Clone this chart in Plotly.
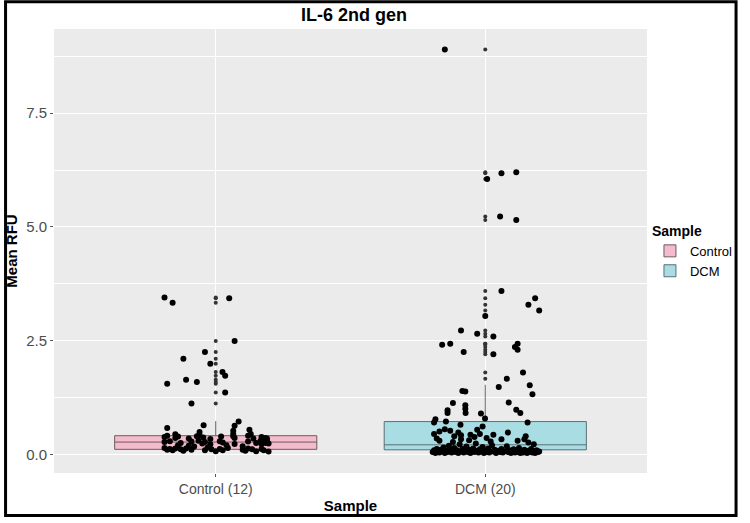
import plotly.graph_objects as go

# ---------------- data ----------------
categories = ["Control (12)", "DCM (20)"]
legend_names = ["Control", "DCM"]

# box statistics
box_q1 = [0.11, 0.10]
box_median = [0.27, 0.21]
box_q3 = [0.41, 0.72]
box_lower = [0.06, 0.03]
box_upper = [0.73, 1.53]

# jittered points: horizontal jitter offset (category units) and value
control_offset = [
    -0.19, -0.16, 0.05, 0.07, -0.04, -0.12, -0.02, 0.025, 0.035, -0.11, -0.07, -0.18, 0.035, -0.09,
    -0.18, -0.045, 0.085, 0.07, -0.06, 0.065, 0.125, 0.13, -0.06, 0.065, 0.065, -0.15,
    -0.19, -0.18, -0.15, -0.14, -0.10, -0.07, -0.046, -0.02, 0.02, 0.07, 0.12, 0.14, 0.17, 0.178, 0.184,
    -0.19, -0.17, -0.13, -0.09, -0.064, -0.05, -0.04, -0.02, 0.015, 0.026, 0.07, 0.12, 0.15, 0.166, 0.184, 0.19, 0.196,
    -0.19, -0.18, -0.17, -0.16, -0.15, -0.13, -0.12, -0.11, -0.09, -0.04, -0.03, -0.016, 0.0, 0.015, 0.026,
    0.045, 0.10, 0.11, 0.12, 0.135, 0.15, 0.17, 0.178, 0.196,
    0.175, 0.18, 0.185, 0.17, 0.19,
    -0.10, -0.14, 0.04, 0.10, -0.08,
]
control_value = [
    3.45, 3.33, 3.43, 2.49, 2.25, 2.10, 1.99, 1.81, 1.73, 1.64, 1.59, 1.55, 1.36, 1.12,
    0.58, 0.64, 0.72, 0.63, 0.49, 0.52, 0.54, 0.45, 0.42, 0.45, 0.40, 0.44,
    0.38, 0.41, 0.36, 0.39, 0.35, 0.40, 0.37, 0.34, 0.39, 0.36, 0.41, 0.35, 0.38, 0.33, 0.36,
    0.27, 0.29, 0.25, 0.28, 0.30, 0.24, 0.27, 0.22, 0.29, 0.26, 0.23, 0.28, 0.25, 0.30, 0.27, 0.31, 0.24,
    0.14, 0.10, 0.12, 0.09, 0.13, 0.11, 0.08, 0.13, 0.10, 0.09, 0.15, 0.11, 0.07, 0.12, 0.09,
    0.14, 0.10, 0.08, 0.13, 0.11, 0.07, 0.12, 0.09, 0.06,
    0.33, 0.30, 0.25, 0.22, 0.35,
    0.19, 0.20, 0.20, 0.18, 0.17,
]

dcm_offset = [
    -0.15, 0.06, 0.115, 0.007, 0.055, 0.115, 0.06, 0.185, 0.16, 0.2, 0.0, -0.09, -0.03, 0.03,
    -0.16, -0.13, -0.08, 0.03, 0.12, 0.11, 0.12, 0.14, 0.08,
    0.05, 0.165, 0.175, -0.085, -0.074, -0.12, 0.087, -0.074, -0.074, -0.14, -0.14, -0.073, 0.115,
    0.13, -0.016, -0.001, -0.185, -0.19, -0.146, 0.157, -0.092, -0.01,
    -0.15, -0.17, -0.13, -0.10, -0.09, -0.03, -0.02, -0.055, 0.03, 0.084, 0.15, 0.145, -0.19, -0.18,
    -0.115, -0.04, 0.005,
    -0.195, -0.19, -0.185, -0.18, -0.175, -0.17, -0.165, -0.16, -0.155, -0.15, -0.145, -0.14, -0.135,
    -0.13, -0.125, -0.12, -0.115, -0.11, -0.105, -0.10, -0.095, -0.09, -0.085, -0.08, -0.075, -0.07,
    -0.065, -0.06, -0.055, -0.05, -0.045, -0.04, -0.035, -0.03, -0.025, -0.02, -0.015, -0.01, -0.005,
    0.0, 0.005, 0.01, 0.015, 0.02, 0.025, 0.03, 0.035, 0.04, 0.05, 0.055, 0.06, 0.065, 0.07, 0.08,
    0.085, 0.09, 0.095, 0.10, 0.105, 0.11, 0.115, 0.12, 0.125, 0.13, 0.135, 0.14, 0.145, 0.15, 0.155,
    0.16, 0.165, 0.17, 0.175, 0.18, 0.185, 0.19, 0.195, 0.2,
    -0.17, -0.12, -0.06, 0.02, 0.06, 0.12, 0.16, 0.18, -0.09,
]
dcm_value = [
    8.90, 6.18, 6.20, 6.05, 5.23, 5.15, 3.59, 3.43, 3.29, 3.16, 3.04, 2.72, 2.65, 2.59,
    2.41, 2.43, 2.25, 2.20, 2.43, 2.36, 2.30, 1.80, 1.66,
    1.48, 1.52, 1.32, 1.39, 1.38, 1.13, 1.14, 1.08, 1.00, 0.97, 0.91, 0.91, 0.98,
    0.91, 0.90, 0.79, 0.77, 0.70, 0.72, 0.70, 0.65, 0.61,
    0.55, 0.50, 0.52, 0.48, 0.42, 0.54, 0.45, 0.43, 0.43, 0.48, 0.40, 0.33, 0.45, 0.35,
    0.40, 0.38, 0.36,
    0.05, 0.09, 0.03, 0.12, 0.06, 0.04, 0.10, 0.07, 0.15, 0.03, 0.08, 0.05, 0.19,
    0.11, 0.04, 0.07, 0.14, 0.05, 0.09, 0.03, 0.22, 0.06, 0.12, 0.04, 0.08, 0.17,
    0.05, 0.10, 0.03, 0.07, 0.13, 0.05, 0.24, 0.08, 0.04, 0.11, 0.06, 0.16, 0.03,
    0.09, 0.05, 0.13, 0.04, 0.07, 0.20, 0.06, 0.10, 0.03, 0.08, 0.05, 0.12, 0.04, 0.07, 0.18,
    0.05, 0.09, 0.03, 0.06, 0.11, 0.04, 0.08, 0.05, 0.14, 0.03, 0.07, 0.04, 0.10, 0.06, 0.03,
    0.08, 0.05, 0.12, 0.04, 0.07, 0.03, 0.09, 0.05, 0.06,
    0.30, 0.27, 0.31, 0.28, 0.33, 0.30, 0.26, 0.22, 0.33,
]

y_ticks = [0.0, 2.5, 5.0, 7.5]

# ---------------- styles ----------------
fills = ["#F3BBCB", "#A9DDE4"]
lines = ["#6E5A63", "#5B6E74"]
FONT = "Liberation Sans, Arial, sans-serif"

fig = go.Figure()

offsets_all = [control_offset, dcm_offset]
values_all = [control_value, dcm_value]

for i in range(2):
    fig.add_trace(go.Box(
        x=[i], q1=[box_q1[i]], median=[box_median[i]], q3=[box_q3[i]],
        lowerfence=[box_lower[i]], upperfence=[box_upper[i]],
        width=0.75, whiskerwidth=0, boxpoints=False,
        fillcolor=fills[i], line=dict(color=lines[i], width=1),
        name=legend_names[i], showlegend=True,
    ))

# outliers (drawn by the boxplot at the category centre)
for i in range(2):
    fence = box_q3[i] + 1.5 * (box_q3[i] - box_q1[i])
    out = [v for v in values_all[i] if v > fence]
    fig.add_trace(go.Scatter(
        x=[i] * len(out), y=out, mode="markers",
        marker=dict(color="#333333", size=4), showlegend=False, hoverinfo="skip",
    ))

# jittered points
for i in range(2):
    fig.add_trace(go.Scatter(
        x=[i + o for o in offsets_all[i]], y=values_all[i], mode="markers",
        marker=dict(color="black", size=6), showlegend=False,
    ))

W, H = 750, 523
ml, mr, mt, mb = 51, 93, 29, 45
pw, ph = W - ml - mr, H - mt - mb

fig.update_layout(
    width=W, height=H,
    margin=dict(l=ml, r=mr, t=mt, b=mb, pad=0),
    paper_bgcolor="white", plot_bgcolor="#EBEBEB",
    font=dict(family=FONT, color="black"),
    title=dict(text="<b>IL-6 2nd gen</b>", x=(ml + pw / 2) / W, xanchor="center",
               y=1 - 15 / H, yanchor="middle", font=dict(size=18, color="black")),
    legend=dict(
        title=dict(text="<b>Sample</b>", font=dict(size=14)),
        x=1.005, xanchor="left", y=0.575, yanchor="top",
        font=dict(size=13, color="black"), bgcolor="rgba(0,0,0,0)",
        tracegroupgap=0, itemwidth=30,
    ),
    xaxis=dict(
        range=[-0.6, 1.6], tickvals=[0, 1], ticktext=categories,
        showgrid=True, gridcolor="white", gridwidth=1.1, zeroline=False,
        ticks="outside", ticklen=3, tickcolor="#555555",
        tickfont=dict(size=14, color="#4D4D4D"),
        title=dict(text="<b>Sample</b>", font=dict(size=15, color="black"), standoff=4),
        showline=False, fixedrange=True,
    ),
    yaxis=dict(
        range=[-0.41, 9.35], tickvals=y_ticks, tickformat=".1f",
        showgrid=True, gridcolor="white", gridwidth=1.1, zeroline=False,
        ticks="outside", ticklen=3, tickcolor="#555555",
        tickfont=dict(size=15, color="#4D4D4D"),
        title=dict(text="<b>Mean RFU</b>", font=dict(size=15, color="black"), standoff=4),
        minor=dict(dtick=1.25, tick0=0, showgrid=True, gridcolor="white", gridwidth=0.5, ticks=""),
        showline=False, fixedrange=True,
    ),
    shapes=[dict(
        type="rect", xref="paper", yref="paper", layer="above",
        x0=(-ml + 1.5) / pw, x1=(pw + mr - 2) / pw,
        y0=(-mb + 2) / ph, y1=1 + (mt - 1.5) / ph,
        line=dict(color="black", width=3), fillcolor="rgba(0,0,0,0)",
    )],
)

fig.write_html("out.html")
